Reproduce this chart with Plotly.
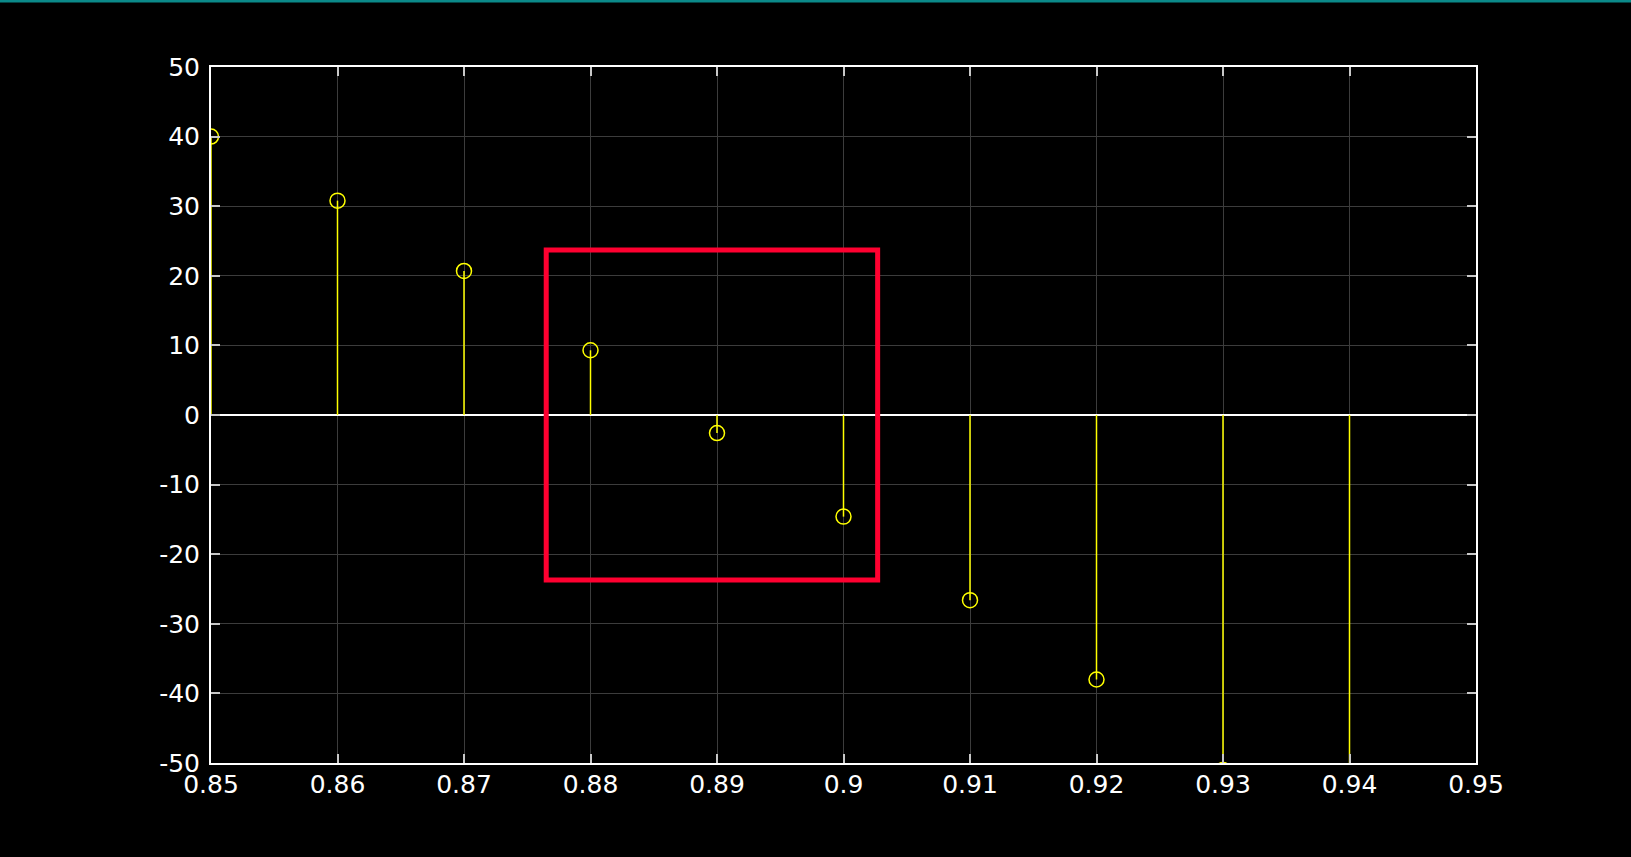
import plotly.graph_objects as go

# Data (stem plot)
x_vals = [0.85, 0.86, 0.87, 0.88, 0.89, 0.90, 0.91, 0.92, 0.93, 0.94]
y_vals = [40.0, 30.8, 20.7, 9.3, -2.6, -14.6, -26.6, -38.0, -51.0, -63.0]

x_ticks = [0.85, 0.86, 0.87, 0.88, 0.89, 0.90, 0.91, 0.92, 0.93, 0.94, 0.95]
x_tick_text = ["0.85", "0.86", "0.87", "0.88", "0.89", "0.9", "0.91", "0.92", "0.93", "0.94", "0.95"]
y_ticks = [-50, -40, -30, -20, -10, 0, 10, 20, 30, 40, 50]
y_tick_text = ["-50", "-40", "-30", "-20", "-10", "0", "10", "20", "30", "40", "50"]

# highlight box (data coordinates)
box_x = [0.8765, 0.9027]
box_y = [-23.7, 23.7]

W, H = 1631, 857
ML, MR, MT, MB = 211, 155, 67, 94
YELLOW = "#FFFF00"

stem_x, stem_y = [], []
for xv, yv in zip(x_vals, y_vals):
    stem_x += [xv, xv, None]
    stem_y += [0, yv, None]

fig = go.Figure()
fig.add_trace(go.Scatter(x=stem_x, y=stem_y, mode="lines",
                         line=dict(color=YELLOW, width=1.5),
                         hoverinfo="skip", showlegend=False))
fig.add_trace(go.Scatter(x=x_vals, y=y_vals, mode="markers",
                         marker=dict(symbol="circle-open", size=15,
                                     color=YELLOW, line=dict(color=YELLOW, width=1.5)),
                         showlegend=False))

fig.add_shape(type="rect", xref="x", yref="y",
              x0=box_x[0], x1=box_x[1], y0=box_y[0], y1=box_y[1],
              line=dict(color="#FF0030", width=5))

# teal strip at the very top of the page
plot_h = H - MT - MB
fig.add_shape(type="rect", xref="paper", yref="paper",
              x0=-ML / (W - ML - MR), x1=1 + MR / (W - ML - MR),
              y0=1 + (MT - 2.5) / plot_h, y1=1 + (MT + 1) / plot_h,
              line=dict(width=0), fillcolor="#0B8A8A", layer="above")

font = dict(family="DejaVu Sans, Liberation Sans, Arial", size=25, color="#FFFFFF")
axis_common = dict(showgrid=True, gridcolor="#3C3C3C", gridwidth=1,
                   showline=True, linecolor="#FFFFFF", linewidth=2, mirror="ticks",
                   ticks="inside", ticklen=9, tickwidth=2, tickcolor="#C8C8C8",
                   tickfont=font)

fig.update_xaxes(range=[0.85, 0.95], tickvals=x_ticks, ticktext=x_tick_text,
                 zeroline=False, ticklabelstandoff=-2, **axis_common)
fig.update_yaxes(range=[-50, 50], tickvals=y_ticks, ticktext=y_tick_text,
                 zeroline=True, zerolinecolor="#FFFFFF", zerolinewidth=1.5,
                 ticklabelstandoff=4, **axis_common)

fig.update_layout(width=W, height=H,
                  margin=dict(l=ML, r=MR, t=MT, b=MB, pad=0),
                  paper_bgcolor="#000000", plot_bgcolor="#000000",
                  font=font, showlegend=False)

fig.write_html("out.html", config={"displayModeBar": False},
               post_script="document.body.style.margin='0';document.body.style.background='#000';")
